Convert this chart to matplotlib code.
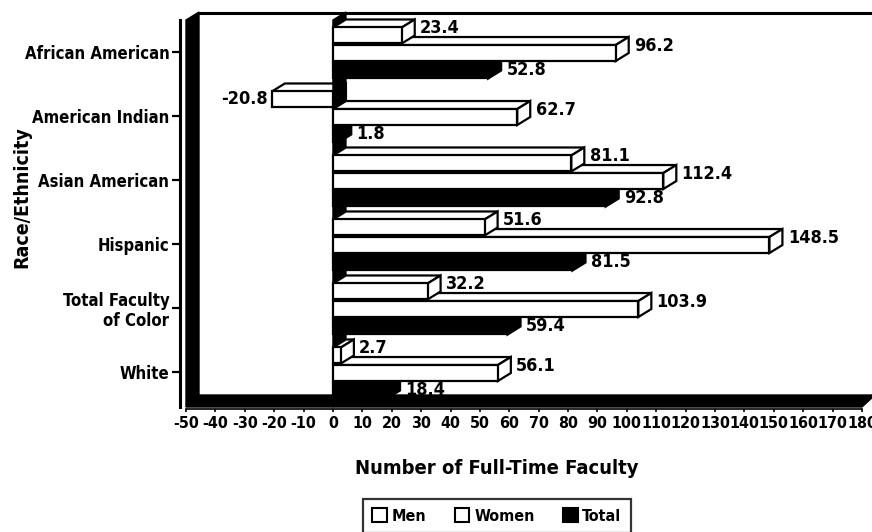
import matplotlib
matplotlib.use("Agg")
import matplotlib.pyplot as plt
from matplotlib import font_manager as fm
from matplotlib.patches import Polygon, Rectangle, Patch

# Change in full-time faculty by race/ethnicity
categories = ["African American", "American Indian", "Asian American",
              "Hispanic", "Total Faculty\nof Color", "White"]
men = [23.4, -20.8, 81.1, 51.6, 32.2, 2.7]
women = [96.2, 62.7, 112.4, 148.5, 103.9, 56.1]
total = [52.8, 1.8, 92.8, 81.5, 59.4, 18.4]
series_names = ["Men", "Women", "Total"]
xticks = list(range(-50, 181, 10))


def pick_narrow_bold():
    """Find an installed bold condensed/narrow face, if any."""
    narrow = ("condensed", "narrow", "semi-condensed", "extra-condensed")
    best, best_score = None, None
    for f in fm.fontManager.ttflist:
        tag = (str(f.stretch) + " " + f.name + " " + f.fname).lower()
        if not any(k in tag for k in narrow):
            continue
        if f.style != "normal":
            continue
        try:
            w = int(f.weight)
        except (TypeError, ValueError):
            w = {"bold": 700, "normal": 400, "black": 900, "heavy": 900,
                 "semibold": 600, "demibold": 600}.get(str(f.weight), 400)
        score = abs(w - 700)
        if "extra" in tag or "ultra" in tag:
            score += 50
        if "semi" in tag:
            score += 30
        if best_score is None or score < best_score:
            best, best_score = f, score
    return best


nf = pick_narrow_bold()
if nf is not None:
    plt.rcParams['font.family'] = [nf.name, 'DejaVu Sans']
    plt.rcParams['font.stretch'] = nf.stretch
    plt.rcParams['font.weight'] = nf.weight
    K = 1.0
else:
    plt.rcParams['font.family'] = ['DejaVu Sans']
    plt.rcParams['font.weight'] = 'bold'
    K = 0.8
plt.rcParams['axes.unicode_minus'] = False

W, H = 872, 532
fig = plt.figure(figsize=(W / 100, H / 100), dpi=100)
top_px, bot_px = 12, 407
left_px, right_px = 186, 862
ax = fig.add_axes([left_px / W, 1 - bot_px / H,
                   (right_px - left_px) / W, (bot_px - top_px) / H])
ROW = 64.0


def py(p):
    """Figure pixel row -> category coordinate."""
    return (p - 52) / ROW


XMIN, XMAX = -50, 180
ax.set_xlim(XMIN, XMAX)
ax.set_ylim(py(bot_px), py(top_px))

DX = 13 * (XMAX - XMIN) / (right_px - left_px)   # depth along x
DY = -8 / ROW                                      # depth along y
BAR_H = 0.25
offsets = {"Men": -0.258, "Women": 0.016, "Total": 0.289}
faces = {"Men": "white", "Women": "white", "Total": "black"}
LW = 1.6


def box(v, yc, face, z):
    x0, x1 = min(0, v), max(0, v)
    t, b = yc - BAR_H / 2, yc + BAR_H / 2
    kw = dict(facecolor=face, edgecolor="black", linewidth=LW,
              joinstyle="miter", zorder=z)
    ax.add_patch(Polygon([(x0, t), (x0 + DX, t + DY), (x1 + DX, t + DY), (x1, t)], **kw))
    ax.add_patch(Polygon([(x1, t), (x1 + DX, t + DY), (x1 + DX, b + DY), (x1, b)], **kw))
    ax.add_patch(Rectangle((x0, t), x1 - x0, BAR_H, **kw))


LABEL_FS = 13 * K
series = {"Men": men, "Women": women, "Total": total}
z = 4.0
for i in reversed(range(len(categories))):
    for name in ["Total", "Women", "Men"]:
        v = series[name][i]
        yc = i + offsets[name]
        zz = 2.0 if v < 0 else z
        box(v, yc, faces[name], zz)
        z += 0.01
        if v < 0:
            ax.text(v - 1.5, yc, f"{v}", ha="right", va="center",
                    fontsize=LABEL_FS, zorder=20)
        else:
            ly = yc if name == "Total" else yc - 0.11
            ax.text(v + DX + 1.8, ly, f"{v}", ha="left", va="center",
                    fontsize=LABEL_FS, zorder=20)

# black walls: left side, floor and the zero plane
blk = dict(facecolor="black", edgecolor="black", linewidth=1, clip_on=False)
ax.add_patch(Polygon([(XMIN, py(20)), (XMIN + DX, py(12)), (XMIN + DX, py(395)),
                      (XMIN, py(407))], zorder=30, **blk))
ax.add_patch(Polygon([(XMIN, py(407)), (XMIN + DX, py(395)), (XMAX + DX, py(395)),
                      (XMAX, py(407))], zorder=30, **blk))
ax.add_patch(Polygon([(0, py(20)), (DX, py(12)), (DX, py(395)), (0, py(407))],
                     zorder=3, **blk))
ax.plot([XMIN + DX, XMAX + DX], [py(12.5), py(12.5)], color="black", lw=2.2,
        clip_on=False, zorder=30)

# axes
for s in ["top", "right"]:
    ax.spines[s].set_visible(False)
ax.spines["left"].set_position(("outward", 4.5))
ax.spines["left"].set_linewidth(2.2)
ax.spines["left"].set_bounds(py(407), py(20))
ax.spines["bottom"].set_position(("outward", 1.5))
ax.spines["bottom"].set_linewidth(1.2)

ax.set_yticks(range(len(categories)))
ax.set_yticklabels(categories, fontsize=12 * K, ha="right", linespacing=1.15)
ax.tick_params(axis="y", direction="out", length=5.5, width=1.6, pad=2)
ax.set_xticks(xticks)
ax.set_xticklabels([str(t) for t in xticks], fontsize=11.5 * K)
ax.tick_params(axis="x", direction="out", length=2.5, width=1.2, pad=2.5)

fig.text(497 / W, 1 - 468 / H, "Number of Full-Time Faculty", ha="center",
         va="center", fontsize=14.5 * K)
fig.text(22 / W, 1 - 197 / H, "Race/Ethnicity", ha="center", va="center",
         rotation=90, fontsize=14 * K)

handles = [Patch(facecolor=faces[n], edgecolor="black", linewidth=1.5)
           for n in series_names]
leg = fig.legend(handles, series_names, loc="center",
                 bbox_to_anchor=(497 / W, 1 - 516 / H), ncol=3, frameon=True,
                 fancybox=False, edgecolor="black", handlelength=0.9,
                 handleheight=0.9, handletextpad=0.3, columnspacing=1.8,
                 fontsize=11.5 * K, borderpad=0.6)
leg.get_frame().set_linewidth(1.6)

fig.savefig("out.png", dpi=100)
